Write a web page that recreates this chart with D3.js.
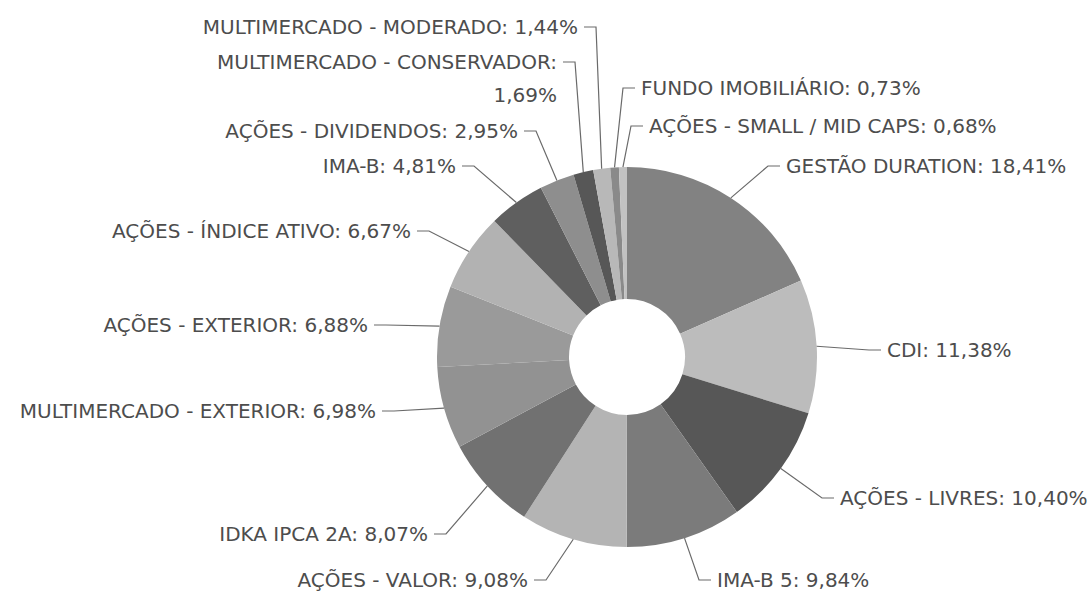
<!DOCTYPE html>
<html>
<head>
<meta charset="utf-8">
<script src="https://cdn.jsdelivr.net/npm/d3@7"></script>
<style>
  body { margin: 0; background: #fff; }
  svg { display: block; }
</style>
</head>
<body>
<div id="chart"></div>
<script>
// categorias e percentuais (sentido horario a partir do topo)
const categories = [
  "GESTÃO DURATION", "CDI", "AÇÕES - LIVRES", "IMA-B 5", "AÇÕES - VALOR",
  "IDKA IPCA 2A", "MULTIMERCADO - EXTERIOR", "AÇÕES - EXTERIOR", "AÇÕES - ÍNDICE ATIVO",
  "IMA-B", "AÇÕES - DIVIDENDOS", "MULTIMERCADO - CONSERVADOR", "MULTIMERCADO - MODERADO",
  "FUNDO IMOBILIÁRIO", "AÇÕES - SMALL / MID CAPS"
];
const values = [18.41, 11.38, 10.40, 9.84, 9.08, 8.07, 6.98, 6.88, 6.67, 4.81, 2.95, 1.69, 1.44, 0.73, 0.68];
const grays = [
  "#828282", "#bcbcbc", "#575757", "#7b7b7b", "#b4b4b4",
  "#717171", "#929292", "#9a9a9a", "#b2b2b2",
  "#5f5f5f", "#8e8e8e", "#575757", "#b8b8b8", "#8a8a8a", "#c2c2c2"
];

// posicao dos rotulos: [x, y, lado, quebra de linha]
const labelSpots = [
  [786, 166, "start"], [887, 350, "start"], [840, 498, "start"], [717, 580, "start"],
  [528, 580, "end"], [428, 534, "end"], [376, 411, "end"], [368, 325, "end"],
  [411, 231, "end"], [456, 166, "end"], [518, 131, "end"], [557, 62, "end", true],
  [578, 27, "end"], [641, 88, "start"], [649, 126, "start"]
];

const width = 1089;
const height = 600;
const cx = 627, cy = 357;
const outerRadius = 190;
const innerRadius = 58;

const svg = d3.select("#chart")
  .append("svg")
  .attr("width", width)
  .attr("height", height);

const data = categories.map((c, i) => ({ name: c, value: values[i], color: grays[i], spot: labelSpots[i] }));

const pie = d3.pie().sort(null).value(d => d.value);
const arcs = pie(data);
const arc = d3.arc().innerRadius(innerRadius).outerRadius(outerRadius);

const g = svg.append("g").attr("transform", `translate(${cx},${cy})`);

g.selectAll("path")
  .data(arcs)
  .join("path")
  .attr("d", arc)
  .attr("fill", d => d.data.color);

const fmt = v => v.toFixed(2).replace(".", ",") + "%";

// linhas de chamada
const leaders = svg.append("g")
  .attr("fill", "none")
  .attr("stroke", "#6a6a6a")
  .attr("stroke-width", 1.2);

arcs.forEach(d => {
  const mid = (d.startAngle + d.endAngle) / 2;
  const sx = cx + Math.sin(mid) * outerRadius;
  const sy = cy - Math.cos(mid) * outerRadius;
  const [lx, ly, side] = d.data.spot;
  const right = side === "start";
  const ex = right ? lx - 6 : lx + 6;
  let bx = right ? ex - 12 : ex + 12;
  if (right && bx < sx) bx = sx;
  if (!right && bx > sx) bx = sx;
  leaders.append("path")
    .attr("d", d3.line()([[sx, sy], [bx, ly], [ex, ly]]));
});

// rotulos
const labels = svg.append("g")
  .style("font-family", "'DejaVu Sans', Verdana, sans-serif")
  .style("font-size", "20px")
  .attr("fill", "#4d4d4d");

arcs.forEach(d => {
  const [lx, ly, side, wrap] = d.data.spot;
  const t = labels.append("text")
    .attr("x", lx)
    .attr("y", ly + 7)
    .attr("text-anchor", side);
  if (wrap) {
    t.append("tspan").attr("x", lx).text(d.data.name + ":");
    t.append("tspan").attr("x", lx).attr("dy", 33).text(fmt(d.data.value));
  } else {
    t.text(`${d.data.name}: ${fmt(d.data.value)}`);
  }
});
</script>
</body>
</html>
